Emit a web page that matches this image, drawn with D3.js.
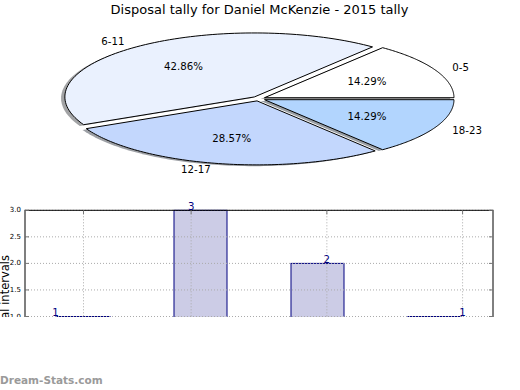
<!DOCTYPE html>
<html><head><meta charset="utf-8">
<script src="https://cdn.jsdelivr.net/npm/d3@7"></script>
<style>body{margin:0;background:#fff} svg{display:block} text{font-family:"DejaVu Sans",sans-serif}</style>
</head><body>
<svg id="c" width="520" height="390"></svg>
<script>
const title = "Disposal tally for Daniel McKenzie - 2015 tally";
const categories = ["0-5", "6-11", "12-17", "18-23"];
const counts = [1, 3, 2, 1];
const pieColors = ["#ffffff", "#eaf1fe", "#c3d7fd", "#b2d5fe"];
const barValues = [1, 3, 2, 1];
const barLabelPos = [-0.24, 0.92, 2.08, 3.24];
const xGridTicks = [0, 0.92, 2.08, 3.24];
const yTicks = [1.0, 1.5, 2.0, 2.5, 3.0];
const yLabel = "Disposal intervals";
const watermark = "Dream-Stats.com";

const svg = d3.select("#c");

// Title
svg.append("text").attr("x", 259.5).attr("y", 14).attr("text-anchor", "middle")
  .attr("font-size", 13).attr("fill", "#000").text(title);

// ---------- Pie ----------
const cx = 258.5, cy = 98.7, rx = 189.5, ry = 64;
const px = d3.scaleLinear().domain([-1, 1]).range([cx - rx, cx + rx]);
const py = d3.scaleLinear().domain([-1, 1]).range([cy + ry, cy - ry]);
const arcs = d3.pie().sort(null).startAngle(0).endAngle(2 * Math.PI)(counts);
const explode = 0.035;
const total = d3.sum(counts);
const line = d3.line().x(d => px(d[0])).y(d => py(d[1]));
function wedgePts(a, ox, oy) {
  const pts = [[ox, oy]], n = 90;
  for (let k = 0; k <= n; k++) {
    const t = a.startAngle + (a.endAngle - a.startAngle) * k / n;
    pts.push([ox + Math.cos(t), oy + Math.sin(t)]);
  }
  pts.push([ox, oy]);
  return pts;
}
const pie = svg.append("g");
arcs.forEach((a, i) => {
  const m = (a.startAngle + a.endAngle) / 2;
  const ox = explode * Math.cos(m), oy = explode * Math.sin(m);
  const c = d3.rgb(pieColors[i]);
  pie.append("path").attr("d", line(wedgePts(a, ox - 0.02, oy - 0.02)))
    .attr("fill", d3.rgb(c.r * 0.3, c.g * 0.3, c.b * 0.3)).attr("fill-opacity", 0.5).attr("stroke", "none");
});
arcs.forEach((a, i) => {
  const m = (a.startAngle + a.endAngle) / 2;
  const ox = explode * Math.cos(m), oy = explode * Math.sin(m);
  pie.append("path").attr("d", line(wedgePts(a, ox, oy)))
    .attr("fill", pieColors[i]).attr("stroke", "#000").attr("stroke-width", 1).attr("stroke-linejoin", "miter");
});
arcs.forEach((a, i) => {
  const m = (a.startAngle + a.endAngle) / 2;
  const ox = explode * Math.cos(m), oy = explode * Math.sin(m);
  const lx = ox + 1.1 * Math.cos(m), ly = oy + 1.1 * Math.sin(m);
  pie.append("text").attr("x", px(lx)).attr("y", py(ly))
    .attr("text-anchor", Math.cos(m) > 0 ? "start" : "end").attr("dominant-baseline", "central")
    .attr("font-size", 10.2).text(categories[i]);
  const tx = ox + 0.6 * Math.cos(m), ty = oy + 0.6 * Math.sin(m);
  pie.append("text").attr("x", px(tx)).attr("y", py(ty))
    .attr("text-anchor", "middle").attr("dominant-baseline", "central")
    .attr("font-size", 10.2).text((counts[i] / total * 100).toFixed(2) + "%");
});

// ---------- Bars ----------
svg.append("clipPath").attr("id", "clipb").append("rect")
  .attr("x", 0).attr("y", 190).attr("width", 520).attr("height", 127);
const bg = svg.append("g").attr("clip-path", "url(#clipb)");
const L = 25, R = 493, T = 210.3;
const x = d3.scaleLinear().domain([-0.5, 3.5]).range([L, R]);
const y = d3.scaleLinear().domain([0, 3]).range([T + 159.3, T]);
const B = y(0);
const bw = 0.453;

bg.selectAll("rect.bar").data(barValues).enter().append("rect").attr("class", "bar")
  .attr("x", (d, i) => x(i - bw / 2)).attr("width", x(bw) - x(0))
  .attr("y", d => y(d)).attr("height", d => B - y(d))
  .attr("fill", "#000080").attr("fill-opacity", 0.2)
  .attr("stroke", "#000080").attr("stroke-width", 1);

// grid
bg.selectAll("line.hg").data(yTicks).enter().append("line")
  .attr("x1", L).attr("x2", R).attr("y1", d => y(d)).attr("y2", d => y(d))
  .attr("stroke", "#aaaaaa").attr("stroke-width", 1).attr("stroke-dasharray", "1,2");
bg.selectAll("line.vg").data(xGridTicks).enter().append("line")
  .attr("x1", d => x(d)).attr("x2", d => x(d)).attr("y1", T).attr("y2", B)
  .attr("stroke", "#aaaaaa").attr("stroke-width", 1).attr("stroke-dasharray", "1,2");

// frame
bg.append("rect").attr("x", L).attr("y", T).attr("width", R - L).attr("height", B - T)
  .attr("fill", "none").attr("stroke", "#000").attr("stroke-width", 1);

// ticks (inward)
yTicks.forEach(v => {
  bg.append("line").attr("x1", L).attr("x2", L + 4).attr("y1", y(v)).attr("y2", y(v)).attr("stroke", "#777").attr("stroke-width", 1);
  bg.append("line").attr("x1", R - 4).attr("x2", R).attr("y1", y(v)).attr("y2", y(v)).attr("stroke", "#777").attr("stroke-width", 1);
});
xGridTicks.forEach(v => {
  bg.append("line").attr("x1", x(v)).attr("x2", x(v)).attr("y1", T).attr("y2", T + 4).attr("stroke", "#777").attr("stroke-width", 1);
});

// y tick labels
bg.selectAll("text.yt").data(yTicks).enter().append("text")
  .attr("x", 21).attr("y", d => y(d)).attr("text-anchor", "end").attr("dominant-baseline", "central")
  .attr("font-size", 7).attr("fill", "#000").text(d => d.toFixed(1));

// y label
bg.append("text").attr("transform", "translate(9,255) rotate(-90)")
  .attr("text-anchor", "end").attr("font-size", 11.5).attr("fill", "#000").text(yLabel);

// bar value labels
bg.selectAll("text.bl").data(barValues).enter().append("text")
  .attr("x", (d, i) => x(barLabelPos[i])).attr("y", d => y(d) - 0.5)
  .attr("text-anchor", "middle").attr("font-size", 10.2).attr("fill", "#000080").text(d => d);

// watermark
svg.append("text").attr("x", 0).attr("y", 384).attr("font-family", "'Open Sans', sans-serif")
  .attr("font-weight", 600).attr("font-size", 10.5).attr("fill", "#9a9a9a").text(watermark);
</script>
</body></html>
